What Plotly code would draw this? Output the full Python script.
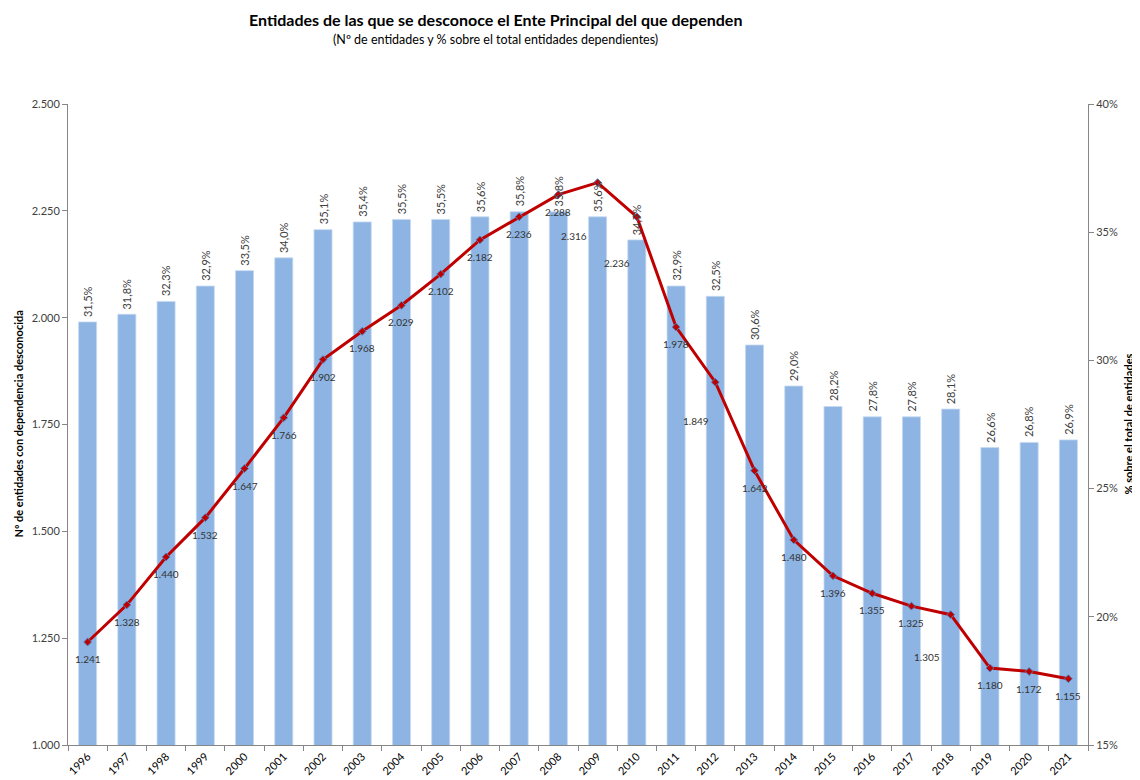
import plotly.graph_objects as go

years = [str(y) for y in range(1996, 2022)]
pct_values = [31.5, 31.8, 32.3, 32.9, 33.5, 34.0, 35.1, 35.4, 35.5, 35.5, 35.6, 35.8, 35.8,
              35.6, 34.7, 32.9, 32.5, 30.6, 29.0, 28.2, 27.8, 27.8, 28.1, 26.6, 26.8, 26.9]
count_values = [1241, 1328, 1440, 1532, 1647, 1766, 1902, 1968, 2029, 2102, 2182, 2236, 2288,
                2316, 2236, 1978, 1849, 1642, 1480, 1396, 1355, 1325, 1305, 1180, 1172, 1155]
# label offsets (px) for the count labels
label_dx = [0]*26
label_dy = [-17]*26
for i, (dx, dy) in {13: (-24, -53), 14: (-20, -46), 16: (-19, -39), 22: (-24, -42)}.items():
    label_dx[i] = dx
    label_dy[i] = dy

FONT = "Lato"
TXT = "#404040"
PLOT_W = 1020

fig = go.Figure()
fig.add_trace(go.Bar(
    x=years, y=[v/100 for v in pct_values], yaxis="y",
    marker=dict(color="#8DB4E2", line=dict(color="#C6D9F1", width=0.8)),
    hoverinfo="skip", showlegend=False))
fig.add_trace(go.Scatter(
    x=years, y=count_values, yaxis="y2", mode="lines+markers",
    line=dict(color="#C00000", width=3),
    marker=dict(symbol="diamond", size=6, color="#C00000", line=dict(color="#4F81BD", width=1)),
    showlegend=False, cliponaxis=False))

annotations = []
for i, p in enumerate(pct_values):
    annotations.append(dict(
        x=i, y=p / 100, xref="x", yref="y", text=f"{p:.1f}%".replace(".", ","),
        showarrow=False, textangle=-90, xanchor="center", yanchor="bottom", yshift=4,
        borderpad=0, font=dict(family=FONT, size=11, color=TXT)))
for i, v in enumerate(count_values):
    annotations.append(dict(
        x=i, y=v, xref="x", yref="y2", text=f"{v:,}".replace(",", "."),
        showarrow=False, xshift=label_dx[i], yshift=label_dy[i],
        font=dict(family=FONT, size=10, color="#333333")))

annotations.append(dict(x=(495 - 68) / PLOT_W, y=(745 - 19) / 641, xref="paper", yref="paper",
                        xanchor="center", yanchor="middle", showarrow=False,
                        text="<b>Entidades de las que se desconoce el Ente Principal del que dependen</b>",
                        font=dict(family=FONT, size=16, color="#000000")))
annotations.append(dict(x=(495 - 68) / PLOT_W, y=(745 - 39) / 641, xref="paper", yref="paper",
                        xanchor="center", yanchor="middle", showarrow=False,
                        text="(Nº de entidades y % sobre el total entidades dependientes)",
                        font=dict(family=FONT, size=12.5, color="#000000")))
annotations.append(dict(x=-50 / PLOT_W, y=0.5, xref="paper", yref="paper", xanchor="center",
                        yanchor="middle", showarrow=False, textangle=-90, borderpad=0,
                        text="<b>Nº de entidades con dependencia desconocida</b>",
                        font=dict(family=FONT, size=11, color="#000000")))
annotations.append(dict(x=1 + 40 / PLOT_W, y=0.5, xref="paper", yref="paper", xanchor="center",
                        yanchor="middle", showarrow=False, textangle=-90, borderpad=0,
                        text="<b>% sobre el total de entidades</b>",
                        font=dict(family=FONT, size=11, color="#000000")))

fig.update_layout(
    width=1132, height=772,
    margin=dict(l=60, r=52, t=96, b=35, autoexpand=False),
    paper_bgcolor="white", plot_bgcolor="white",
    separators=",.",
    bargap=0.54,
    font=dict(family=FONT, color=TXT),
    annotations=annotations,
    xaxis=dict(type="category", range=[-0.5, 25.5], tickson="boundaries", ticks="outside", ticklen=5,
               tickcolor="#868686", showline=True, linecolor="#868686", linewidth=1,
               tickangle=-45, tickfont=dict(family=FONT, size=11, color="#000000"),
               showgrid=False, automargin=False),
    yaxis=dict(side="right", range=[0.15, 0.40], dtick=0.05, tickformat=".0%",
               ticks="outside", ticklen=5, tickcolor="#868686", showline=True,
               linecolor="#868686", linewidth=1, showgrid=False, zeroline=False,
               tickfont=dict(family=FONT, size=11, color=TXT), automargin=False),
    yaxis2=dict(side="left", overlaying="y", range=[1000, 2500], dtick=250, tickformat=",d",
                ticks="outside", ticklen=5, tickcolor="#868686", showline=True,
                linecolor="#868686", linewidth=1, showgrid=False, zeroline=False,
                tickfont=dict(family=FONT, size=11, color=TXT), automargin=False),
)

fig.write_html("out.html")
